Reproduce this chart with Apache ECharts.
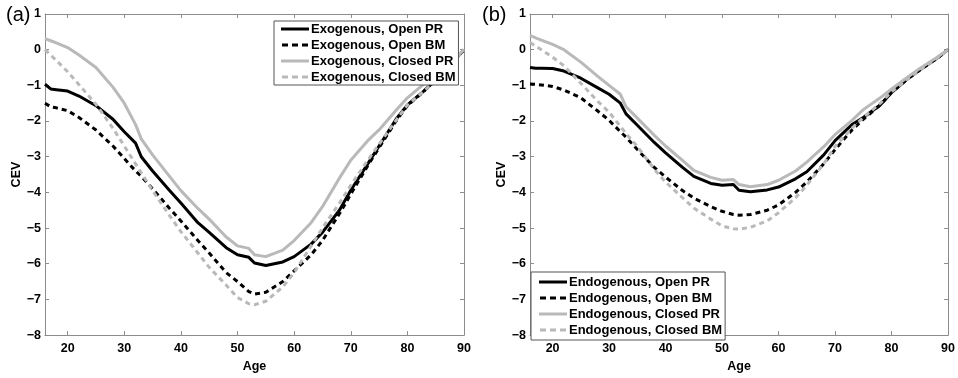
<!DOCTYPE html>
<html><head><meta charset="utf-8">
<script src="https://cdn.jsdelivr.net/npm/echarts@6/dist/echarts.min.js"></script>
<style>html,body{margin:0;padding:0;background:#fff}#c{width:958px;height:378px}</style>
</head><body><div id="c"></div>
<script>
const ages = [16,17,18,20,22,25,28,30,32,33,35,38,40,43,45,48,50,52,53,55,58,60,63,65,68,70,73,75,78,80,83,85,88,90];

// Panel (a) Exogenous
const exoOpenPR   = [-0.97,-1.10,-1.12,-1.16,-1.30,-1.57,-1.95,-2.30,-2.62,-3.00,-3.40,-3.95,-4.30,-4.85,-5.12,-5.55,-5.75,-5.82,-5.98,-6.05,-5.95,-5.80,-5.45,-5.12,-4.50,-3.94,-3.20,-2.70,-1.95,-1.55,-1.15,-0.85,-0.35,0.00];
const exoOpenBM   = [-1.50,-1.60,-1.63,-1.71,-1.90,-2.25,-2.70,-3.05,-3.40,-3.55,-3.90,-4.45,-4.80,-5.35,-5.70,-6.25,-6.50,-6.78,-6.85,-6.80,-6.50,-6.20,-5.75,-5.35,-4.60,-4.05,-3.25,-2.75,-2.00,-1.57,-1.15,-0.85,-0.35,0.00];
const exoClosedPR = [0.31,0.25,0.19,0.06,-0.15,-0.50,-1.05,-1.50,-2.10,-2.50,-2.95,-3.55,-3.95,-4.45,-4.75,-5.25,-5.50,-5.57,-5.75,-5.80,-5.62,-5.35,-4.85,-4.40,-3.60,-3.10,-2.55,-2.25,-1.70,-1.35,-0.95,-0.70,-0.30,0.00];
const exoClosedBM = [0.00,-0.15,-0.30,-0.62,-0.98,-1.53,-2.20,-2.70,-3.20,-3.45,-3.95,-4.65,-5.10,-5.70,-6.10,-6.60,-6.95,-7.12,-7.15,-7.05,-6.65,-6.25,-5.50,-5.00,-4.30,-3.80,-3.10,-2.65,-1.98,-1.55,-1.15,-0.85,-0.35,0.00];

// Panel (b) Endogenous
const endoOpenPR   = [-0.50,-0.52,-0.52,-0.53,-0.60,-0.80,-1.07,-1.25,-1.50,-1.80,-2.12,-2.60,-2.89,-3.30,-3.55,-3.75,-3.80,-3.78,-3.94,-3.98,-3.93,-3.85,-3.62,-3.42,-2.95,-2.55,-2.10,-1.90,-1.55,-1.20,-0.80,-0.57,-0.25,0.00];
const endoOpenBM   = [-0.96,-0.97,-0.99,-1.03,-1.13,-1.35,-1.72,-1.98,-2.30,-2.45,-2.80,-3.30,-3.57,-3.95,-4.16,-4.40,-4.53,-4.62,-4.64,-4.62,-4.50,-4.35,-4.00,-3.71,-3.20,-2.80,-2.25,-1.95,-1.55,-1.20,-0.80,-0.57,-0.25,0.00];
const endoClosedPR = [0.40,0.33,0.27,0.15,0.00,-0.35,-0.75,-1.00,-1.25,-1.60,-1.92,-2.40,-2.70,-3.10,-3.38,-3.58,-3.66,-3.64,-3.78,-3.84,-3.78,-3.66,-3.40,-3.15,-2.72,-2.38,-1.98,-1.68,-1.35,-1.10,-0.75,-0.53,-0.22,0.00];
const endoClosedBM = [0.20,0.10,0.00,-0.21,-0.45,-0.94,-1.45,-1.75,-2.15,-2.35,-2.71,-3.35,-3.71,-4.15,-4.44,-4.75,-4.94,-5.02,-5.03,-4.98,-4.80,-4.57,-4.15,-3.80,-3.20,-2.71,-2.20,-1.90,-1.50,-1.18,-0.80,-0.57,-0.25,0.00];

const exoNames  = ['Exogenous, Open PR','Exogenous, Open BM','Exogenous, Closed PR','Exogenous, Closed BM'];
const endoNames = ['Endogenous, Open PR','Endogenous, Open BM','Endogenous, Closed PR','Endogenous, Closed BM'];
const xTickValues = [20,30,40,50,60,70,80,90];
const xMin = 16, xMax = 90, yMin = -8, yMax = 1;

const FONT = '"Liberation Sans", Arial, Helvetica, sans-serif';
const AXC = '#8c8c8c';
const BLACK = '#000000', GRAY = '#b9b9b9';
const DASH = [5, 4];
const ICON_SOLID = 'rect';
const ICON_DASH = 'path://M0,0h6v3h-6z M10,0h6v3h-6z M20,0h6v3h-6z';

const chart = echarts.init(document.getElementById('c'));
const minus = v => String(v).replace('-', '\u2212');

function xAxis(gi, pos, labels) {
  return {
    type: 'value', gridIndex: gi, position: pos, min: xMin, max: xMax,
    name: labels ? 'Age' : '', nameLocation: 'middle', nameGap: 22,
    nameTextStyle: {fontFamily: FONT, fontWeight: 'bold', fontSize: 12.5, color: '#000'},
    axisLine: {show: true, onZero: false, lineStyle: {color: AXC, width: 1}},
    axisTick: {show: true, inside: true, length: 4, customValues: xTickValues, lineStyle: {color: AXC}},
    axisLabel: {show: labels, customValues: xTickValues, margin: 7, fontFamily: FONT, fontWeight: 'bold', fontSize: 12.5, color: '#000'},
    splitLine: {show: false}
  };
}
function yAxis(gi, pos, labels) {
  return {
    type: 'value', gridIndex: gi, position: pos, min: yMin, max: yMax, interval: 1,
    name: labels ? 'CEV' : '', nameLocation: 'middle', nameGap: 19, nameRotate: 90,
    nameTextStyle: {fontFamily: FONT, fontWeight: 'bold', fontSize: 12.5, color: '#000'},
    axisLine: {show: true, onZero: false, lineStyle: {color: AXC, width: 1}},
    axisTick: {show: true, inside: true, length: 4, lineStyle: {color: AXC}},
    axisLabel: {show: labels, margin: 4, formatter: minus, fontFamily: FONT, fontWeight: 'bold', fontSize: 12.5, color: '#000'},
    splitLine: {show: false}
  };
}
function mk(name, arr, color, dashed, xi, yi) {
  return {
    name, type: 'line', xAxisIndex: xi, yAxisIndex: yi,
    data: ages.map((a, i) => [a, arr[i]]),
    symbol: 'none', smooth: false, animation: false,
    lineStyle: {color, width: 3, type: dashed ? DASH : 'solid', join: 'round'},
    itemStyle: {color}
  };
}
function legendData(names) {
  return names.map((n, i) => ({name: n, icon: (i % 2 === 1) ? ICON_DASH : ICON_SOLID}));
}
const legendBase = {
  orient: 'vertical', itemWidth: 28, itemHeight: 3, itemGap: 2,
  backgroundColor: '#fff', borderColor: '#555', borderWidth: 1, borderRadius: 0,
  selectedMode: false,
  textStyle: {fontFamily: FONT, fontWeight: 'bold', fontSize: 13, lineHeight: 14, color: '#000', padding: [0, 0, 0, -3]}
};

chart.setOption({
  animation: false,
  backgroundColor: '#fff',
  title: [
    {text: '(a)', left: 6, top: 5, textStyle: {fontFamily: FONT, fontWeight: 'normal', fontSize: 20, color: '#000'}, padding: 0},
    {text: '(b)', left: 482, top: 5, textStyle: {fontFamily: FONT, fontWeight: 'normal', fontSize: 20, color: '#000'}, padding: 0}
  ],
  grid: [
    {left: 45, top: 14, width: 419, height: 330},
    {left: 530, top: 14, width: 419, height: 329}
  ],
  xAxis: [xAxis(0, 'bottom', true), xAxis(0, 'top', false), xAxis(1, 'bottom', true), xAxis(1, 'top', false)],
  yAxis: [yAxis(0, 'left', true), yAxis(0, 'right', false), yAxis(1, 'left', true), yAxis(1, 'right', false)],
  legend: [
    Object.assign({}, legendBase, {data: legendData(exoNames), left: 274, top: 21, padding: [1, 3, 1, 7]}),
    Object.assign({}, legendBase, {data: legendData(endoNames), left: 531, top: 272, padding: [3, 3, 3, 8]})
  ],
  series: [
    mk(exoNames[0], exoOpenPR, BLACK, false, 0, 0),
    mk(exoNames[1], exoOpenBM, BLACK, true, 0, 0),
    mk(exoNames[2], exoClosedPR, GRAY, false, 0, 0),
    mk(exoNames[3], exoClosedBM, GRAY, true, 0, 0),
    mk(endoNames[0], endoOpenPR, BLACK, false, 2, 2),
    mk(endoNames[1], endoOpenBM, BLACK, true, 2, 2),
    mk(endoNames[2], endoClosedPR, GRAY, false, 2, 2),
    mk(endoNames[3], endoClosedBM, GRAY, true, 2, 2)
  ]
});
</script></body></html>
